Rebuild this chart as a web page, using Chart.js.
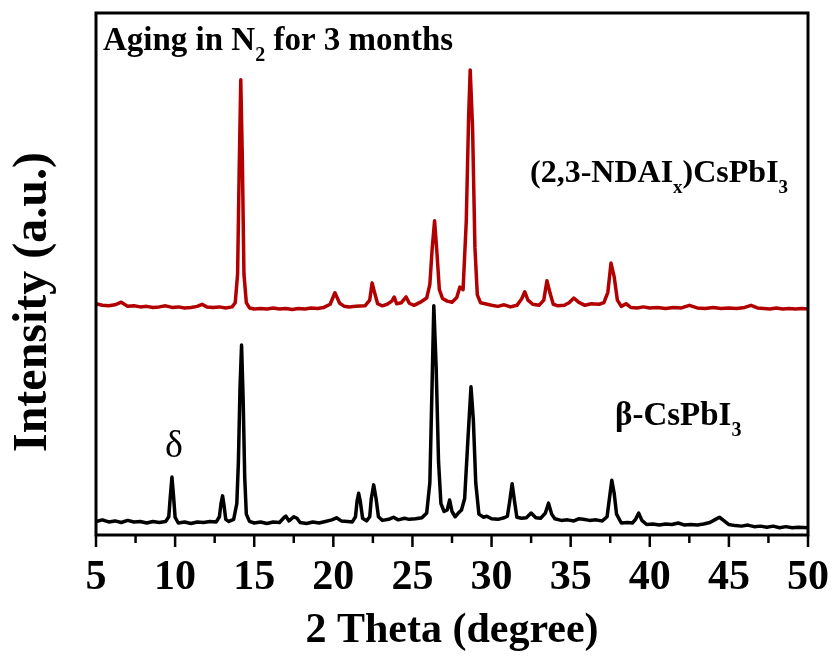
<!DOCTYPE html>
<html>
<head>
<meta charset="utf-8">
<script src="https://cdn.jsdelivr.net/npm/chart.js@4.4.1/dist/chart.umd.min.js"></script>
<style>
    html, body { margin: 0; padding: 0; background: #fff; }
    canvas { display: block; }
</style>
</head>
<body>
<canvas id="xrd" width="834" height="664"></canvas>
<script>
// 2 Theta (degree) vs. intensity (a.u.).
// black: beta-CsPbI3, red: (2,3-NDAIx)CsPbI3 (stacked above)
const betaPattern = [
    [5.0, 2.6], [5.4, 2.9], [5.8, 2.5], [6.2, 2.7], [6.6, 2.4], [7.0, 2.8], [7.4, 2.5], [7.8, 2.6],
    [8.2, 2.3], [8.6, 2.6], [9.0, 2.4], [9.4, 2.6], [9.6, 3.5], [9.7, 7.5], [9.8, 11.1], [9.9, 7.5],
    [10.0, 3.4], [10.2, 2.3], [10.6, 2.5], [11.0, 2.2], [11.4, 2.5], [11.8, 2.4], [12.2, 2.6], [12.6, 2.5],
    [12.8, 3.5], [12.9, 6.0], [13.0, 7.5], [13.1, 5.5], [13.2, 3.0], [13.4, 2.6], [13.7, 3.0], [13.9, 6.0],
    [14.0, 14.0], [14.1, 28.0], [14.2, 36.4], [14.3, 26.0], [14.4, 11.0], [14.5, 4.0], [14.7, 2.6], [15.0, 2.3],
    [15.4, 2.5], [15.8, 2.2], [16.2, 2.5], [16.6, 2.4], [16.9, 3.4], [17.0, 3.6], [17.2, 2.7], [17.5, 3.5],
    [17.7, 3.2], [17.9, 2.4], [18.3, 2.2], [18.7, 2.5], [19.1, 2.3], [19.5, 2.6], [19.9, 2.9], [20.2, 3.3],
    [20.5, 2.7], [20.9, 2.6], [21.2, 2.5], [21.4, 3.5], [21.5, 6.5], [21.6, 8.0], [21.7, 6.5], [21.85, 3.2],
    [22.1, 2.7], [22.3, 3.5], [22.4, 7.0], [22.55, 9.6], [22.7, 7.0], [22.85, 3.5], [23.1, 2.8], [23.5, 3.0],
    [23.8, 3.4], [24.1, 2.9], [24.5, 3.2], [24.8, 3.0], [25.2, 3.1], [25.6, 3.3], [25.9, 4.2], [26.1, 10.0],
    [26.25, 30.0], [26.35, 43.9], [26.5, 32.0], [26.65, 14.0], [26.8, 6.0], [27.0, 4.5], [27.2, 4.8], [27.35, 6.7],
    [27.5, 4.5], [27.7, 3.5], [27.9, 4.2], [28.1, 4.8], [28.3, 7.0], [28.5, 18.0], [28.7, 28.4], [28.85, 22.0],
    [29.0, 10.0], [29.2, 4.0], [29.5, 3.4], [29.7, 3.6], [30.0, 3.1], [30.4, 3.0], [30.8, 3.3], [31.0, 3.6],
    [31.15, 6.5], [31.3, 9.8], [31.45, 6.5], [31.6, 3.4], [31.9, 3.2], [32.2, 3.3], [32.5, 4.2], [32.8, 3.3],
    [33.1, 3.2], [33.4, 4.2], [33.6, 6.1], [33.8, 4.0], [34.0, 3.1], [34.4, 2.8], [34.8, 2.9], [35.2, 2.7],
    [35.5, 3.1], [35.8, 3.0], [36.2, 2.8], [36.6, 2.9], [37.0, 2.7], [37.3, 3.5], [37.45, 7.0], [37.6, 10.5],
    [37.75, 8.0], [37.9, 4.0], [38.2, 2.3], [38.6, 2.4], [38.9, 2.3], [39.1, 3.0], [39.3, 4.2], [39.5, 2.8],
    [39.8, 2.0], [40.2, 2.1], [40.6, 1.9], [41.0, 2.1], [41.4, 2.0], [41.8, 2.3], [42.2, 1.9], [42.6, 2.0],
    [43.0, 1.9], [43.4, 2.1], [43.8, 2.4], [44.1, 2.9], [44.4, 3.4], [44.7, 2.7], [45.0, 2.0], [45.4, 1.8],
    [45.8, 1.7], [46.2, 1.9], [46.6, 1.6], [47.0, 1.7], [47.4, 1.5], [47.8, 1.7], [48.2, 1.4], [48.6, 1.6],
    [49.0, 1.4], [49.4, 1.5], [50.0, 1.4]
];

const ndaiPattern = [
    [5.0, 44.3], [5.4, 44.0], [5.8, 43.9], [6.2, 44.1], [6.6, 44.6], [7.0, 43.8], [7.4, 43.9], [7.8, 43.7],
    [8.2, 43.8], [8.6, 43.6], [9.0, 43.7], [9.4, 43.9], [9.8, 43.6], [10.2, 43.7], [10.6, 43.5], [11.0, 43.6],
    [11.4, 43.8], [11.7, 44.2], [12.0, 43.7], [12.4, 43.6], [12.8, 43.7], [13.2, 43.5], [13.6, 43.7], [13.8, 44.5],
    [13.95, 50.0], [14.05, 70.0], [14.15, 87.2], [14.25, 72.0], [14.35, 50.0], [14.5, 44.5], [14.7, 43.5], [15.0, 43.3],
    [15.4, 43.4], [15.8, 43.3], [16.2, 43.5], [16.6, 43.3], [17.0, 43.4], [17.4, 43.2], [17.8, 43.4], [18.2, 43.3],
    [18.6, 43.5], [19.0, 43.4], [19.4, 43.6], [19.8, 44.2], [20.1, 46.4], [20.4, 44.4], [20.7, 43.8], [21.0, 43.7],
    [21.4, 43.8], [22.0, 43.9], [22.3, 45.0], [22.45, 48.3], [22.6, 46.5], [22.8, 44.3], [23.1, 43.9], [23.4, 44.2],
    [23.7, 44.8], [23.85, 45.6], [24.0, 44.3], [24.3, 44.5], [24.6, 45.6], [24.8, 44.4], [25.1, 44.0], [25.5, 44.6],
    [25.9, 45.4], [26.1, 48.0], [26.25, 55.0], [26.4, 60.2], [26.55, 54.0], [26.7, 47.0], [26.9, 45.3], [27.2, 44.8],
    [27.5, 44.6], [27.8, 45.5], [28.0, 47.5], [28.2, 47.0], [28.4, 60.0], [28.55, 80.0], [28.65, 89.1], [28.8, 78.0],
    [28.95, 55.0], [29.1, 46.0], [29.3, 44.5], [29.6, 44.3], [30.0, 44.0], [30.4, 43.8], [30.8, 44.1], [31.2, 43.7],
    [31.6, 44.0], [31.9, 45.2], [32.1, 46.6], [32.3, 45.0], [32.6, 44.2], [33.0, 44.0], [33.3, 45.0], [33.5, 48.7],
    [33.7, 46.3], [33.9, 44.2], [34.2, 43.9], [34.6, 44.0], [34.9, 44.5], [35.2, 45.4], [35.5, 44.6], [35.9, 44.0],
    [36.3, 44.3], [36.8, 44.2], [37.1, 44.5], [37.35, 46.5], [37.55, 52.1], [37.75, 49.5], [37.95, 45.0], [38.2, 43.8],
    [38.5, 44.3], [38.8, 43.6], [39.2, 43.5], [39.6, 43.7], [40.0, 43.5], [40.5, 43.6], [41.0, 43.4], [41.5, 43.6],
    [42.0, 43.5], [42.5, 44.0], [43.0, 43.5], [43.5, 43.4], [44.0, 43.6], [44.5, 43.4], [45.0, 43.5], [45.5, 43.4],
    [46.0, 43.6], [46.4, 44.0], [46.8, 43.5], [47.2, 43.4], [47.6, 43.3], [48.0, 43.5], [48.4, 43.3], [48.8, 43.4],
    [49.2, 43.3], [49.6, 43.4], [50.0, 43.3]
];

const xRange = [5, 50];
const yRange = [0, 100];

const SERIF = '"Liberation Serif", "Times New Roman", serif';

// draws text runs like [["Aging in N"], ["2", "sub"], [" for 3 months"]]
function drawRich(ctx, runs, x, y, size) {
    let cx = x;
    runs.forEach(function (run) {
        const sub = run[1] === "sub";
        const fs = sub ? Math.round(size * 0.6) : size;
        ctx.font = "bold " + fs + "px " + SERIF;
        ctx.fillText(run[0], cx, sub ? y + size * 0.33 : y);
        cx += ctx.measureText(run[0]).width;
    });
}

const decorPlugin = {
    id: "decor",
    afterDraw(chart) {
        const ctx = chart.ctx;
        const area = chart.chartArea;
        const xs = chart.scales.x;
        ctx.save();
        ctx.strokeStyle = "#000";
        ctx.fillStyle = "#000";

        // frame
        ctx.lineWidth = 3;
        ctx.strokeRect(area.left, area.top, area.right - area.left, area.bottom - area.top);

        // ticks: long at 5s, short halfway
        ctx.lineWidth = 2.5;
        xs.ticks.forEach(function (t) {
            const px = xs.getPixelForValue(t.value);
            const major = t.value % 5 === 0;
            ctx.beginPath();
            ctx.moveTo(px, area.bottom);
            ctx.lineTo(px, area.bottom + (major ? 12 : 8));
            ctx.stroke();
        });

        ctx.textBaseline = "alphabetic";
        ctx.textAlign = "left";

        // annotations
        drawRich(ctx, [["Aging in N"], ["2", "sub"], [" for 3 months"]], 103, 50, 33);
        drawRich(ctx, [["(2,3-NDAI"], ["x", "sub"], [")CsPbI"], ["3", "sub"]], 530, 182, 32);
        drawRich(ctx, [["\u03b2-CsPbI"], ["3", "sub"]], 615, 425, 33);

        ctx.font = "38px " + SERIF;
        ctx.textAlign = "center";
        ctx.fillText("\u03b4", xs.getPixelForValue(9.8) + 2, 457);

        // axis titles
        ctx.font = "bold 42px " + SERIF;
        ctx.fillText("2 Theta (degree)", (area.left + area.right) / 2, 642);

        ctx.translate(46, 302);
        ctx.rotate(-Math.PI / 2);
        ctx.font = "bold 48px " + SERIF;
        ctx.fillText("Intensity (a.u.)", 0, 0);
        ctx.restore();
    }
};

new Chart(document.getElementById("xrd"), {
    type: "line",
    data: {
        datasets: [
            {
                label: "beta-CsPbI3",
                data: betaPattern.map((p) => ({ x: p[0], y: p[1] })),
                borderColor: "#000000",
                borderWidth: 3.5,
            },
            {
                label: "(2,3-NDAIx)CsPbI3",
                data: ndaiPattern.map((p) => ({ x: p[0], y: p[1] })),
                borderColor: "#b20000",
                borderWidth: 3.5,
            },
        ],
    },
    options: {
        responsive: false,
        animation: false,
        devicePixelRatio: 1,
        layout: { padding: { top: 13, right: 26, left: 0, bottom: 0 } },
        elements: { point: { radius: 0 }, line: { tension: 0, borderJoinStyle: "round" } },
        plugins: { legend: { display: false }, tooltip: { enabled: false } },
        scales: {
            x: {
                type: "linear",
                min: xRange[0],
                max: xRange[1],
                afterFit: (scale) => {
                    scale.height = 129;
                    scale.paddingLeft = 0;
                    scale.paddingRight = 0;
                },
                grid: { display: false, drawTicks: false },
                border: { display: false },
                ticks: {
                    stepSize: 2.5,
                    padding: 18,
                    autoSkip: false,
                    maxRotation: 0,
                    color: "#000",
                    font: { family: SERIF, size: 42, weight: "bold" },
                    callback: (v) => (v % 5 === 0 ? v : ""),
                },
            },
            y: {
                min: yRange[0],
                max: yRange[1],
                afterFit: (scale) => { scale.width = 96; },
                grid: { display: false, drawTicks: false },
                border: { display: false },
                ticks: { display: false },
            },
        },
    },
    plugins: [decorPlugin],
});
</script>
</body>
</html>
